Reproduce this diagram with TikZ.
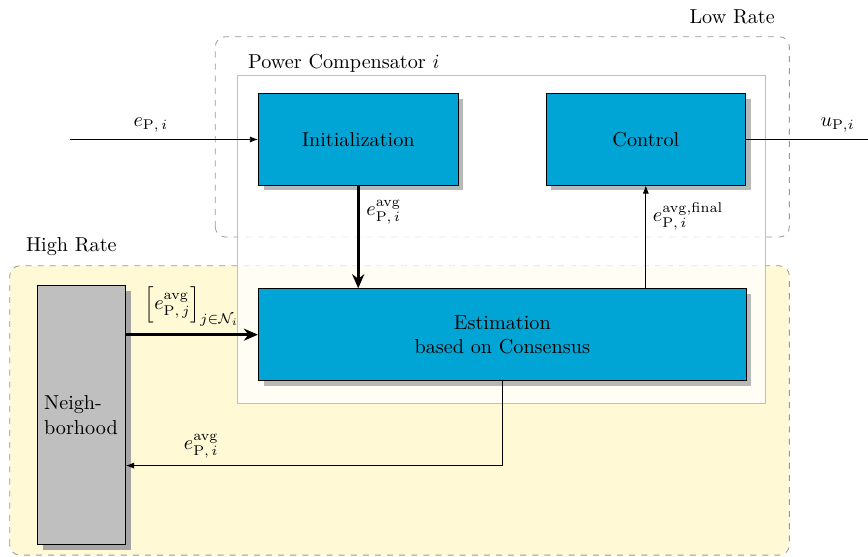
\documentclass[tikz,border=0pt]{standalone}
\usepackage{amsmath,amssymb}
\usetikzlibrary{arrows.meta,calc,positioning,shadows}
\definecolor{blockblue}{RGB}{0,165,214}
\definecolor{highyellow}{RGB}{255,249,214}

\begin{document}
\begin{tikzpicture}[
  block/.style={draw=black,fill=blockblue,minimum width=3.48cm,minimum height=1.59cm,align=center,
    drop shadow={shadow xshift=0.09cm,shadow yshift=-0.09cm,fill=black!28,opacity=1}},
  ratebox/.style={draw=black!40,dashed,rounded corners=5pt},
  sig/.style={-{Latex[length=4pt,width=3pt]}},
  bus/.style={line width=1.4pt,-{Stealth[length=7pt,width=6pt]}},
]
\useasboundingbox (0,0) rectangle (15.12,9.70);
% rate areas
\draw[ratebox,fill=highyellow](0.17,0.03) rectangle (13.75,5.07);
\draw[ratebox](3.75,5.57) rectangle (13.75,9.06);
\node[anchor=east] at (13.62,9.41) (lowlbl){Low Rate};
\node[anchor=west] at (0.33,5.40) (highlbl){High Rate};
% compensator
\draw[draw=black!25,fill=white,fill opacity=0.75](4.13,2.67) rectangle (13.34,8.38);
\node[anchor=west] at (4.2,8.59) (pclbl){Power Compensator $i$};
% blocks
\node[block] at (6.24,7.27) (init){Initialization};
\node[block] at (11.25,7.27) (ctrl){Control};
\node[block,minimum width=8.50cm,minimum height=1.6cm] at (8.75,3.87) (est){Estimation\\based on Consensus};
\node[block,fill=black!25,minimum width=1.52cm,minimum height=4.51cm,text width=1.3cm,align=left,
  drop shadow={shadow xshift=0.09cm,shadow yshift=-0.09cm,fill=black!35,opacity=1}] at (1.42,2.47) (nbh){Neigh-\\borhood};
% signals
\coordinate (ein) at (1.22,7.27);
\coordinate (uout) at (15.12,7.27);
\coordinate (back) at (0,1.59);
\draw[sig](ein)--(init)node[pos=0.43,above]{$e_{\mathrm{P},\,i}$};
\draw(ctrl)--(uout)node[pos=0.75,above]{$u_{\mathrm{P},i}$};
\draw[bus](init.south)--(init.south|-est.north)node[pos=0.26,right]{$e^{\mathrm{avg}}_{\mathrm{P},\,i}$};
\draw[sig](ctrl.south|-est.north)--(ctrl.south)node[pos=0.7,right]{$e^{\mathrm{avg,final}}_{\mathrm{P},\,i}$};
\draw[bus](nbh.east|-est)--(est.west)node[midway,above]{$\Bigl[e^{\mathrm{avg}}_{\mathrm{P},\,j}\Bigr]_{j\in\mathcal{N}_i}$};
\draw[sig](est.south)|-(nbh.east|-back)node[pos=0.9,above]{$e^{\mathrm{avg}}_{\mathrm{P},\,i}$};
\end{tikzpicture}
\end{document}
